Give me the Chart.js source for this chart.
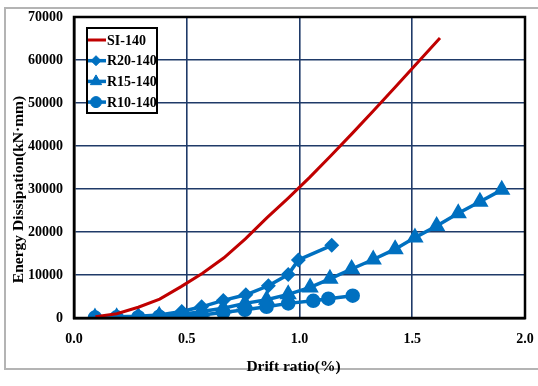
<!DOCTYPE html>
<html>
<head>
<meta charset="utf-8">
<script src="https://cdn.jsdelivr.net/npm/chart.js@4.4.0/dist/chart.umd.min.js"></script>
<style>
  html, body { margin: 0; padding: 0; background: #fff; }
  #wrap { width: 538px; height: 386px; position: relative; }
</style>
</head>
<body>
<div id="wrap"><canvas id="c" width="538" height="386"></canvas></div>
<script>
// Specimen names
const seriesNames = ['SI-140', 'R20-140', 'R15-140', 'R10-140'];

// Drift ratio (%) and cumulative energy dissipation (kN·mm) per specimen
const driftSI  = [0.095, 0.19, 0.285, 0.38, 0.475, 0.57, 0.665, 0.76, 0.855, 0.95, 1.045, 1.14, 1.235, 1.33, 1.425, 1.52, 1.623];
const energySI = [300, 1000, 2500, 4400, 7300, 10400, 14000, 18400, 23300, 27900, 32700, 37800, 43000, 48300, 53700, 59200, 65100];

const driftR20  = [0.093, 0.189, 0.285, 0.378, 0.478, 0.566, 0.662, 0.762, 0.862, 0.950, 0.995, 1.143];
const energyR20 = [200, 300, 400, 700, 1500, 2600, 4100, 5400, 7500, 10100, 13500, 16900];

const driftR15  = [0.093, 0.189, 0.285, 0.378, 0.478, 0.566, 0.662, 0.758, 0.854, 0.950, 1.047, 1.135, 1.231, 1.327, 1.424, 1.512, 1.608, 1.704, 1.800, 1.897];
const energyR15 = [100, 200, 300, 500, 800, 1500, 2250, 3400, 4250, 5500, 7100, 9100, 11400, 13600, 16000, 18700, 21400, 24350, 27050, 29800];

const driftR10  = [0.093, 0.189, 0.285, 0.378, 0.478, 0.566, 0.662, 0.758, 0.854, 0.950, 1.061, 1.128, 1.236];
const energyR10 = [100, 150, 200, 300, 450, 700, 1300, 1900, 2600, 3400, 4000, 4500, 5200];

// Axis ticks
const xTicks = [0.0, 0.5, 1.0, 1.5, 2.0];
const yTicks = [0, 10000, 20000, 30000, 40000, 50000, 60000, 70000];

const xTitle = 'Drift ratio(%)';
const yTitle = 'Energy Dissipation(kN·mm)';

const RED = '#C00000';
const BLUE = '#0070C0';
const GRID = '#1F3A68';
const FONT = "'Liberation Serif', 'Times New Roman', serif";

function pairs(xs, ys) { return xs.map((x, i) => ({ x: x, y: ys[i] })); }

function drawMarker(ctx, style, r, x, y, color) {
  ctx.save();
  ctx.fillStyle = color;
  ctx.strokeStyle = color;
  ctx.lineWidth = 1;
  ctx.beginPath();
  if (style === 'circle') {
    ctx.arc(x, y, r, 0, Math.PI * 2);
  } else if (style === 'rectRot') {
    ctx.moveTo(x, y - r); ctx.lineTo(x + r, y); ctx.lineTo(x, y + r); ctx.lineTo(x - r, y);
    ctx.closePath();
  } else if (style === 'triangle') {
    const a = Math.PI * 2 / 3;
    ctx.moveTo(x, y - r);
    ctx.lineTo(x + Math.sin(a) * r, y - Math.cos(a) * r);
    ctx.lineTo(x - Math.sin(a) * r, y - Math.cos(a) * r);
    ctx.closePath();
  }
  ctx.fill();
  ctx.stroke();
  ctx.restore();
}

const framePlugin = {
  id: 'frame',
  beforeDraw(chart) {
    const ctx = chart.ctx;
    ctx.save();
    ctx.fillStyle = '#fff';
    ctx.fillRect(0, 0, chart.width, chart.height);
    ctx.strokeStyle = '#b4b4b4';
    ctx.lineWidth = 2;
    ctx.strokeRect(5, 8, chart.width + 20, chart.height - 25);
    ctx.restore();
  },
  afterDatasetsDraw(chart) {
    const ctx = chart.ctx;
    const a = chart.chartArea;
    ctx.save();
    // plot frame
    ctx.strokeStyle = '#000';
    ctx.lineWidth = 2.5;
    ctx.strokeRect(a.left, a.top, a.right - a.left, a.bottom - a.top);

    // axis titles
    ctx.fillStyle = '#000';
    ctx.font = 'bold 15.5px ' + FONT;
    ctx.textAlign = 'center';
    ctx.textBaseline = 'middle';
    ctx.fillText(xTitle, (a.left + a.right) / 2 - 6, a.bottom + 49);
    ctx.save();
    ctx.translate(19, (a.top + a.bottom) / 2 + 22);
    ctx.rotate(-Math.PI / 2);
    ctx.fillText(yTitle, 0, 0);
    ctx.restore();

    // legend box
    const bx = a.left + 13, by = a.top + 11, bw = 70, bh = 85;
    ctx.fillStyle = '#fff';
    ctx.fillRect(bx, by, bw, bh);
    ctx.strokeStyle = '#000';
    ctx.lineWidth = 2;
    ctx.strokeRect(bx, by, bw, bh);
    ctx.font = 'bold 14px ' + FONT;
    ctx.textAlign = 'left';
    chart.data.datasets.forEach((ds, i) => {
      const y = by + 12 + i * 20.7;
      ctx.strokeStyle = ds.borderColor;
      ctx.lineWidth = ds.borderWidth;
      ctx.beginPath();
      ctx.moveTo(bx + 1, y);
      ctx.lineTo(bx + 19, y);
      ctx.stroke();
      if (ds.pointRadius > 0) {
        drawMarker(ctx, ds.pointStyle, ds.pointRadius, bx + 9, y, ds.borderColor);
      }
      ctx.fillStyle = '#000';
      ctx.fillText(ds.label, bx + 20, y + 1);
    });
    ctx.restore();
  }
};

new Chart(document.getElementById('c'), {
  type: 'line',
  data: {
    datasets: [
      { label: seriesNames[0], data: pairs(driftSI, energySI), borderColor: RED, backgroundColor: RED,
        borderWidth: 3, pointRadius: 0, pointStyle: 'circle', tension: 0 },
      { label: seriesNames[1], data: pairs(driftR20, energyR20), borderColor: BLUE, backgroundColor: BLUE,
        borderWidth: 3.5, pointRadius: 5, pointStyle: 'rectRot', tension: 0 },
      { label: seriesNames[2], data: pairs(driftR15, energyR15), borderColor: BLUE, backgroundColor: BLUE,
        borderWidth: 3.5, pointRadius: 6.5, pointStyle: 'triangle', tension: 0 },
      { label: seriesNames[3], data: pairs(driftR10, energyR10), borderColor: BLUE, backgroundColor: BLUE,
        borderWidth: 3.5, pointRadius: 5.5, pointStyle: 'circle', tension: 0 }
    ]
  },
  options: {
    responsive: false,
    animation: false,
    devicePixelRatio: 1,
    layout: { padding: { left: 0, top: 17, right: 13, bottom: 0 } },
    plugins: { legend: { display: false }, tooltip: { enabled: false } },
    elements: { point: { borderWidth: 1 } },
    scales: {
      x: {
        type: 'linear', min: xTicks[0], max: xTicks[xTicks.length - 1],
        afterBuildTicks(s) { s.ticks = xTicks.map(v => ({ value: v })); },
        afterFit(s) { s.height = 68; s.paddingLeft = 0; s.paddingRight = 0; },
        grid: { color: GRID, lineWidth: 1.6, drawTicks: false },
        border: { display: true, color: '#000', width: 2.5 },
        ticks: { color: '#000', padding: 13, maxRotation: 0,
          font: { family: FONT, size: 14, weight: 'bold' },
          callback: v => Number(v).toFixed(1) }
      },
      y: {
        type: 'linear', min: yTicks[0], max: yTicks[yTicks.length - 1],
        afterBuildTicks(s) { s.ticks = yTicks.map(v => ({ value: v })); },
        afterFit(s) { s.width = 74; s.paddingTop = 0; s.paddingBottom = 0; },
        grid: { color: GRID, lineWidth: 1.6, drawTicks: false },
        border: { display: true, color: '#000', width: 2.5 },
        ticks: { color: '#000', padding: 11,
          font: { family: FONT, size: 14, weight: 'bold' },
          callback: v => String(v) }
      }
    }
  },
  plugins: [framePlugin]
});
</script>
</body>
</html>
